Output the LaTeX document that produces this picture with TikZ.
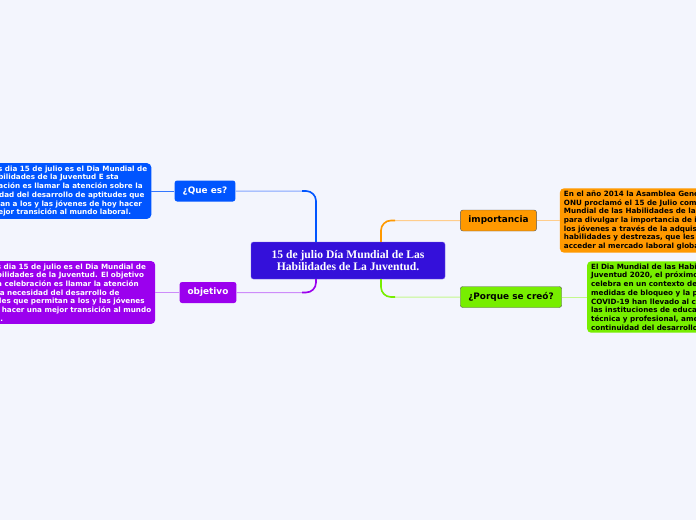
\documentclass[tikz,border=0pt]{standalone}
\usepackage{fontspec}
\setmainfont{Liberation Serif}
\newfontfamily\verd{DejaVu Sans}
\usetikzlibrary{positioning}

\definecolor{bgpage}{RGB}{243,245,253}
\definecolor{hubfill}{RGB}{52,16,218}
\definecolor{bluefill}{RGB}{0,85,255}
\definecolor{bluelite}{RGB}{130,165,255}
\definecolor{purplefill}{RGB}{155,0,238}
\definecolor{purplelite}{RGB}{205,140,250}
\definecolor{orangefill}{RGB}{255,153,0}
\definecolor{orangelite}{RGB}{255,205,140}
\definecolor{greenfill}{RGB}{119,238,0}
\definecolor{greenlite}{RGB}{195,248,140}

\tikzset{
  hubbox/.style={fill=hubfill, draw=hubfill!70!white, rounded corners=2.5pt,
    text=white, align=center, font=\bfseries\fontsize{11.6}{12.5}\selectfont,
    minimum width=194pt, minimum height=37pt},
  branch/.style={rounded corners=2.5pt, inner xsep=8pt,
    font=\verd\bfseries\fontsize{8.9}{10}\selectfont, minimum height=21pt},
  note/.style={rounded corners=4pt, align=left, inner xsep=4pt, inner ysep=2.5pt,
    font=\verd\bfseries\fontsize{7.2}{8.7}\selectfont},
  strong/.style={line width=1.6pt, rounded corners=10pt},
  soft/.style={line width=1pt, rounded corners=10pt}
}

\begin{document}
\begin{tikzpicture}[x=1pt, y=-1pt]
\useasboundingbox[fill=bgpage] (0,0) rectangle (696,520);

% central topic
\node[hubbox] (hub) at (348,260.5) {15 de julio Día Mundial de Las\\Habilidades de La Juventud.};

% main branches
\node[branch, fill=bluefill, text=white] (queEs) at (205,191) {¿Que es?};
\node[branch, fill=purplefill, text=white] (objetivo) at (208,292.5) {objetivo};
\node[branch, fill=orangefill, draw=black!65, text=black] (importancia) at (498.5,220.5) {importancia};
\node[branch, fill=greenfill, draw=black!65, text=black] (porque) at (511,297) {¿Porque se creó?};

% notes
\node[note, fill=bluefill, text=white, left=23pt of queEs] (queEsTxt)
  {Este es dia 15 de julio es el Dia Mundial de\\las Habilidades de la Juventud E sta\\celebración es llamar la atención sobre la\\necesidad del desarrollo de aptitudes que\\permitan a los y las jóvenes de hoy hacer\\una mejor transición al mundo laboral.};
\node[note, fill=purplefill, text=white, left=24pt of objetivo] (objetivoTxt)
  {Este es dia 15 de julio es el Dia Mundial de\\las Habilidades de la Juventud. El objetivo\\de esta celebración es llamar la atención\\sobre la necesidad del desarrollo de\\aptitudes que permitan a los y las jóvenes\\de hoy hacer una mejor transición al mundo\\laboral.};
\node[note, fill=orangefill, text=black, right=23pt of importancia] (importanciaTxt)
  {En el año 2014 la Asamblea General de la\\ONU proclamó el 15 de Julio como Día\\Mundial de las Habilidades de la Juventud,\\para divulgar la importancia de invertir en\\los jóvenes a través de la adquisición de\\habilidades y destrezas, que les permitan\\acceder al mercado laboral global.};
\node[note, fill=greenfill, text=black, right=25pt of porque] (porqueTxt)
  {El Dia Mundial de las Habilidades de la\\Juventud 2020, el próximo 15 de julio, se\\celebra en un contexto desafiante, ya que las\\medidas de bloqueo y la pandemia de\\COVID-19 han llevado al cierre de\\las instituciones de educación y formación\\técnica y profesional, amenazando la\\continuidad del desarrollo de habilidades.};

% links hub -> branches
\draw[soft, bluelite] ([xshift=-32pt]hub.north) |- (queEs.east);
\draw[strong, bluefill] ([xshift=-32pt]hub.north) |- ([xshift=-46pt]hub.north |- queEs.east);
\draw[soft, purplelite] ([xshift=-32pt]hub.south) |- (objetivo.east);
\draw[strong, purplefill] ([xshift=-32pt]hub.south) |- ([xshift=-46pt]hub.south |- objetivo.east);
\draw[soft, orangelite] ([xshift=33pt]hub.north) |- (importancia.west);
\draw[strong, orangefill] ([xshift=33pt]hub.north) |- ([xshift=47pt]hub.north |- importancia.west);
\draw[soft, greenlite] ([xshift=33pt]hub.south) |- (porque.west);
\draw[strong, greenfill] ([xshift=33pt]hub.south) |- ([xshift=47pt]hub.south |- porque.west);

% links branches -> notes
\draw[soft, bluefill!80!white] (queEs) -- (queEsTxt);
\draw[soft, purplelite] (objetivo) -- (objetivoTxt);
\draw[soft, orangelite] (importancia) -- (importanciaTxt);
\draw[soft, greenlite] (porque) -- (porqueTxt);
\end{tikzpicture}
\end{document}
